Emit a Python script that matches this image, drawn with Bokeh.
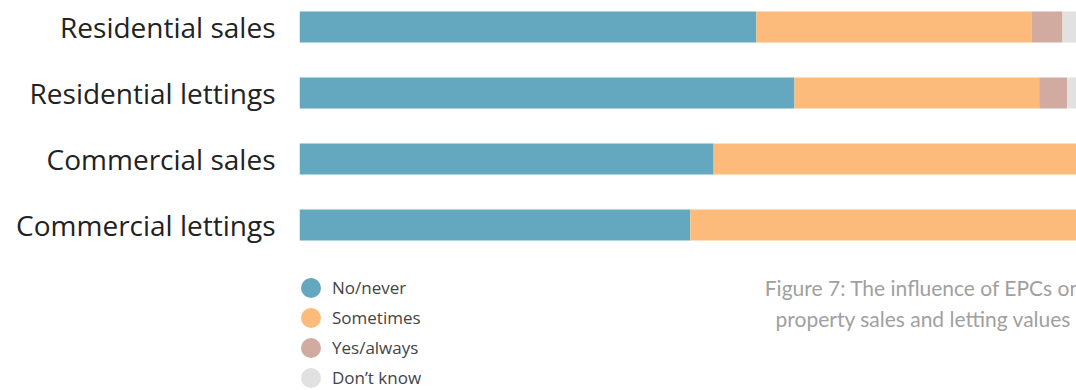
from bokeh.plotting import figure
from bokeh.models import ColumnDataSource, Range1d, FixedTicker, Legend, LegendItem, Label
from bokeh.embed import file_html
from bokeh.resources import INLINE

categories = ["Residential sales", "Residential lettings", "Commercial sales", "Commercial lettings"]
series = ["No/never", "Sometimes", "Yes/always", "Don\u2019t know"]
no_never = [58.8, 63.7, 53.3, 50.3]
sometimes = [35.4, 31.5, 46.7, 49.7]
yes_always = [4.0, 3.6, 0.0, 0.0]
dont_know = [1.8, 1.2, 0.0, 0.0]
colors = ["#63a8be", "#fcbb7a", "#d1aaa0", "#e1e1e1"]
caption = "Figure 7: The influence of EPCs on\nproperty sales and letting values"

n = len(categories)
ypos = [n - 1 - i for i in range(n)]

W, H = 1076, 390
left = 299
px_per_unit = 66.0
top_val = (n - 1) + 26.5 / px_per_unit
bot_val = top_val - H / px_per_unit

p = figure(width=W, height=H, output_backend="svg", toolbar_location=None,
           x_range=Range1d(0, 100), y_range=Range1d(bot_val, top_val),
           min_border_left=left, min_border_right=0, min_border_top=0, min_border_bottom=0,
           outline_line_color=None, x_axis_location=None)
p.grid.visible = False
p.background_fill_color = None
p.border_fill_color = None

data = dict(y=ypos, a=no_never, b=sometimes, c=yes_always, d=dont_know)
src = ColumnDataSource(data)
p.hbar_stack(["a", "b", "c", "d"], y="y", height=0.47, color=colors, line_color=None, source=src)

ax = p.yaxis[0]
ax.ticker = FixedTicker(ticks=ypos)
ax.major_label_overrides = {y: c for y, c in zip(ypos, categories)}
ax.axis_line_color = None
ax.major_tick_line_color = None
ax.minor_tick_line_color = None
ax.major_label_standoff = 18
ax.major_label_text_font = "Open Sans"
ax.major_label_text_font_size = "28px"
ax.major_label_text_color = "#222222"

# legend with circular markers (ellipse glyphs give a round legend swatch)
items = []
for s, col in zip(series, colors):
    r = p.ellipse(x=[float("nan")], y=[float("nan")], width=20, height=20,
                  width_units="screen", height_units="screen",
                  fill_color=col, line_color=None)
    items.append(LegendItem(label=s, renderers=[r]))
legend = Legend(items=items, location=(-1, 0), orientation="vertical",
                glyph_width=25, glyph_height=25, spacing=5, label_standoff=9,
                padding=0, margin=0, border_line_color=None, background_fill_alpha=0,
                label_text_font="Open Sans", label_text_font_size="17px",
                label_text_color="#444444", label_height=25)
p.add_layout(legend, "center")

lab = Label(x=624, y=60, x_units="screen", y_units="screen", text=caption,
            text_align="center", text_baseline="bottom", text_font="Lato",
            text_font_size="21px", text_color="#a0a0a0", text_line_height=1.22)
p.add_layout(lab)

open("out.html", "w").write(file_html(p, INLINE))
